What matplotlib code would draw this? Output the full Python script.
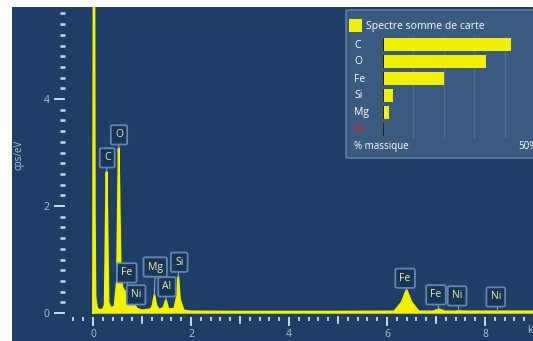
import numpy as np
import matplotlib
matplotlib.use("Agg")
import matplotlib.pyplot as plt
from matplotlib.patches import FancyBboxPatch, Rectangle
from matplotlib.ticker import FixedLocator

plt.rcParams['font.family'] = ['Open Sans', 'DejaVu Sans']

# Sum spectrum, sampled (energy in keV, intensity in cps/eV)
energy_kev = [0.000, 0.005, 0.020, 0.035, 0.050, 0.080, 0.120, 0.200, 0.240, 0.262, 0.277,
              0.292, 0.315, 0.360, 0.440, 0.490, 0.512, 0.525, 0.540, 0.565, 0.600, 0.650,
              0.705, 0.760, 0.820, 0.851, 0.900, 1.000, 1.180, 1.220, 1.254, 1.290, 1.350,
              1.440, 1.487, 1.540, 1.660, 1.710, 1.740, 1.775, 1.850, 2.000, 3.000, 4.000,
              5.000, 6.150, 6.300, 6.400, 6.500, 6.650, 6.950, 7.060, 7.180, 7.400, 7.470,
              7.550, 8.260, 9.200]
cps_per_ev = [0.00, 2.00, 12.0, 2.00, 0.30, 0.10, 0.06, 0.06, 0.15, 1.80, 2.64,
              1.80, 0.20, 0.10, 0.12, 0.60, 2.20, 3.08, 2.20, 0.75, 0.48, 0.40,
              0.42, 0.22, 0.14, 0.15, 0.08, 0.05, 0.07, 0.15, 0.34, 0.15, 0.06,
              0.10, 0.24, 0.07, 0.08, 0.30, 0.68, 0.25, 0.05, 0.03, 0.025, 0.025,
              0.025, 0.03, 0.20, 0.43, 0.20, 0.03, 0.03, 0.07, 0.03, 0.03, 0.04,
              0.03, 0.03, 0.03]

# Peak identification labels: element, peak energy, peak height, label position
peak_labels = ["C", "O", "Fe", "Ni", "Mg", "Al", "Si", "Fe", "Fe", "Ni", "Ni"]
peak_energy = [0.277, 0.525, 0.705, 0.851, 1.254, 1.487, 1.740, 6.400, 7.060, 7.470, 8.260]
peak_height = [2.64, 3.08, 0.42, 0.15, 0.34, 0.24, 0.68, 0.43, 0.07, 0.04, 0.03]
label_x = [0.29, 0.53, 0.69, 0.88, 1.27, 1.51, 1.76, 6.37, 7.00, 7.43, 8.22]
label_y = [2.90, 3.33, 0.75, 0.34, 0.86, 0.49, 0.95, 0.65, 0.34, 0.32, 0.30]

# Mass percentages for the map sum spectrum
quant_elements = ["C", "O", "Fe", "Si", "Mg", "Ni"]
quant_wt_pct = [42.0, 34.0, 20.0, 3.3, 2.0, 0.4]

BG = "#1f3e66"
YELLOW = "#f2f200"
TICK = "#cdd9ea"
TICKLBL = "#b3c3da"

W, H = 533, 341
fig = plt.figure(figsize=(W / 100, H / 100), dpi=100, facecolor="white")

def px_rect(x0, y0, x1, y1):
    return [x0 / W, 1 - y1 / H, (x1 - x0) / W, (y1 - y0) / H]

ax = fig.add_axes(px_rect(12, 7, 533, 341))
ax.set_facecolor(BG)
ax.set_xlim(-1.653, 8.98)
ax.set_ylim(-0.523, 5.72)

ax.fill_between(energy_kev, cps_per_ev, 0, color=YELLOW, lw=0, zorder=3)
ax.plot(energy_kev, cps_per_ev, color=YELLOW, lw=1.4, zorder=4)
ax.plot([0.0, 9.2], [0.025, 0.025], color=YELLOW, lw=1.8, zorder=4)

# axes: spines hidden, ticks placed on offset spines
for s in ax.spines.values():
    s.set_visible(False)
ax.spines['left'].set_position(('data', -0.57))
ax.spines['bottom'].set_position(('data', -0.075))

ax.yaxis.set_major_locator(FixedLocator([0, 2, 4]))
ax.yaxis.set_minor_locator(FixedLocator(np.round(np.arange(0, 5.7, 0.2), 2)))
ax.xaxis.set_major_locator(FixedLocator([0, 2, 4, 6, 8]))
ax.xaxis.set_minor_locator(FixedLocator(np.round(np.arange(-0.4, 9.0, 0.2), 2)))

ax.tick_params(axis='y', which='major', direction='out', length=8, width=1.4,
               color=TICK, labelcolor=TICKLBL, labelsize=7.5, pad=3)
ax.tick_params(axis='y', which='minor', direction='out', length=3.5, width=1.8, color=TICK)
ax.tick_params(axis='x', which='major', direction='out', length=6.5, width=1.4,
               color=TICK, labelcolor=TICKLBL, labelsize=7.5, pad=2)
ax.tick_params(axis='x', which='minor', direction='out', length=3, width=1.3, color=TICK)

# medium ticks on odd keV values
for e in [1, 3, 5, 7]:
    ax.plot([e, e], [-0.075, -0.18], color=TICK, lw=1.3, clip_on=False, zorder=2)

ax.text(-1.5, 2.95, "cps/eV", rotation=90, color=TICKLBL, fontsize=7,
        ha='center', va='center')
ax.text(8.86, -0.33, "keV", color=TICKLBL, fontsize=7.5, ha='left', va='center',
        clip_on=False)

# peak labels
for lbl, pe, ph, lx, ly in zip(peak_labels, peak_energy, peak_height, label_x, label_y):
    ax.annotate(lbl, xy=(pe, ph), xytext=(lx, ly), ha='center', va='center',
                fontsize=7.5, color="#f0f0a0", zorder=6,
                bbox=dict(boxstyle="round,pad=0.4,rounding_size=0.15",
                          fc="#183559", ec="#6385ae", lw=1.3),
                arrowprops=dict(arrowstyle='-', color="#8aa2c4", lw=0.8,
                                shrinkA=0, shrinkB=0))

# quantification panel
panel = FancyBboxPatch((346 / W, 1 - 158 / H), 200 / W, 148 / H,
                       boxstyle="round,pad=0,rounding_size=0.004",
                       transform=fig.transFigure, fc="#3a5a80", ec="#6a88ae",
                       lw=1.0, zorder=5)
fig.patches.append(panel)
fig.patches.append(Rectangle((349 / W, 1 - 32 / H), 13 / W, 13 / H,
                             transform=fig.transFigure, fc=YELLOW, ec='none', zorder=6))
fig.text(366 / W, 1 - 26 / H, "Spectre somme de carte", color="white",
         fontsize=7.5, va='center', ha='left', zorder=7)

bx = fig.add_axes(px_rect(383, 36, 535, 138))
bx.set_facecolor('none')
bx.set_zorder(8)
bx.set_xlim(0, 50)
bx.set_ylim(5.5, -0.5)
ypos = np.arange(len(quant_elements))
for g in [10, 20, 30, 40]:
    bx.axvline(g, color="#4e6e96", lw=1.0, zorder=1)
bx.barh(ypos, quant_wt_pct, height=0.72, color=YELLOW, zorder=3)
bx.vlines(np.zeros(len(ypos)), ypos - 0.36, ypos + 0.36, color="black", lw=1.2, zorder=4)
bx.axis('off')

for i, el in enumerate(quant_elements):
    fig.text(354 / W, 1 - (45 + 17 * i) / H, el,
             color=("#e02020" if el == "Ni" else "white"),
             fontsize=7.5, va='center', ha='left', zorder=9)
fig.text(354 / W, 1 - 146 / H, "% massique", color="white", fontsize=7,
         va='center', ha='left', zorder=9)
fig.text(518 / W, 1 - 146 / H, "50%", color="white", fontsize=7,
         va='center', ha='left', zorder=9)

fig.savefig("out.png", dpi=100, facecolor="white")
